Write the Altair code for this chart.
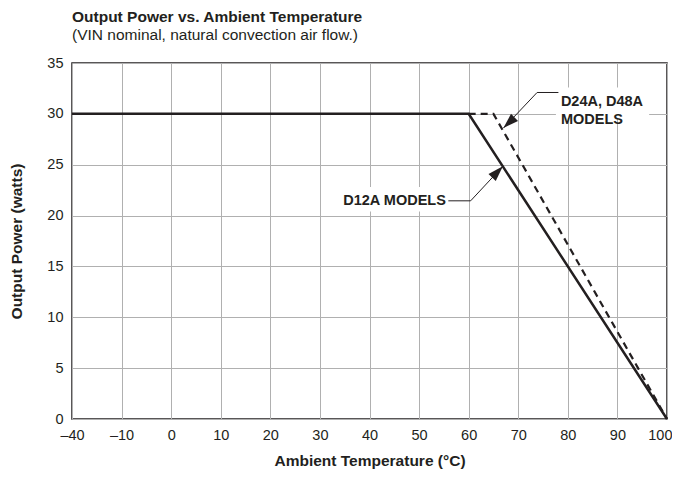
import altair as alt
import pandas as pd

# ---------------- data ----------------
temp_ticks = [-40, -10, 0, 10, 20, 30, 40, 50, 60, 70, 80, 90, 100]
power_ticks = [0, 5, 10, 15, 20, 25, 30, 35]

d12a_temp = [-40, 60, 100]
d12a_power = [30, 30, 0]

d24a_temp = [60, 65, 100]
d24a_power = [30, 30, 0]

# annotation anchors (data units)
ann_text = ["D12A MODELS", "D24A, D48A\nMODELS"]
ann_temp = [55.4, 78.6]
ann_power = [21.45, 31.2]

lead12_temp = [55.9, 60.4, 66.9]
lead12_power = [21.45, 21.45, 24.85]
lead24_temp = [78.1, 73.8, 67.0]
lead24_power = [32.1, 32.1, 28.6]

box_temp = [33.7, 77.6]
box_temp2 = [56.0, 96.4]
box_power = [20.4, 29.6]
box_power2 = [22.8, 32.6]


def pos(t):
    # broken axis: -40..-10 compressed into one tick interval
    return -10 + (t + 10) / 3 if t < -10 else t


FONT = "Liberation Sans"
INK = "#231f20"

x_vals = [pos(t) for t in temp_ticks]
label_expr = "datum.label"
for p, t in zip(x_vals, temp_ticks):
    if t < 0:
        label_expr = f"datum.value == {p} ? '–{abs(t)}' : ({label_expr})"

last = x_vals[-1]
xscale = alt.Scale(domain=[pos(-40), 100], nice=False, zero=False)
yscale = alt.Scale(domain=[0, 35], nice=False)

xaxis = alt.Axis(values=x_vals, labelExpr=label_expr, title="Ambient Temperature (°C)",
                 grid=True, ticks=False, domain=False, labelPadding=9, titlePadding=12,
                 labelFlush=False,
                 labelAlign={"condition": {"test": f"datum.value == {last}", "value": "right"},
                             "value": "center"},
                 labelOffset={"condition": {"test": f"datum.value == {last}", "value": 5},
                              "value": 0})
yaxis = alt.Axis(values=power_ticks, title="Output Power (watts)", grid=True, ticks=False,
                 domain=False, labelPadding=9, titlePadding=22)


def df_line(ts, ps):
    return pd.DataFrame({"p": [pos(t) for t in ts], "w": ps, "o": list(range(len(ts)))})


base_x = alt.X("p:Q", scale=xscale, axis=xaxis)
base_y = alt.Y("w:Q", scale=yscale, axis=yaxis)

boxes = alt.Chart(pd.DataFrame({"p": box_temp, "p2": box_temp2, "w": box_power, "w2": box_power2})).mark_rect(
    color="white").encode(x=base_x, x2="p2:Q", y=base_y, y2="w2:Q")

solid = alt.Chart(df_line(d12a_temp, d12a_power)).mark_line(
    color=INK, strokeWidth=2.5, strokeCap="butt", strokeJoin="miter").encode(
    x=base_x, y=base_y, order="o:Q")

dashed = alt.Chart(df_line(d24a_temp, d24a_power)).mark_line(
    color=INK, strokeWidth=2.2, strokeDash=[7, 5], strokeCap="butt").encode(
    x=base_x, y=base_y, order="o:Q")

leaders = []
arrow_path = "M0,0 L0.65,2 L-0.65,2 Z"
for ts, ps, ang in [(lead12_temp, lead12_power, 44), (lead24_temp, lead24_power, 226)]:
    d = df_line(ts, ps)
    leaders.append(alt.Chart(d).mark_line(color=INK, strokeWidth=1).encode(
        x=base_x, y=base_y, order="o:Q"))
    leaders.append(alt.Chart(d.iloc[[-1]]).mark_point(
        shape=arrow_path, filled=True, size=240, angle=ang, color=INK, opacity=1, strokeWidth=0).encode(
        x=base_x, y=base_y))

labels = []
for txt, t, w, al in zip(ann_text, ann_temp, ann_power, ["right", "left"]):
    labels.append(alt.Chart(pd.DataFrame({"p": [t], "w": [w], "s": [txt]})).mark_text(
        font=FONT, fontSize=14.5, fontWeight="bold", color=INK, align=al, baseline="middle",
        lineBreak="\n", lineHeight=18).encode(x=base_x, y=base_y, text="s:N"))

chart = alt.layer(boxes, solid, dashed, *leaders, *labels).properties(
    width=595, height=356,
    background="white",
    autosize=alt.AutoSizeParams(type="none"),
    padding={"left": 64, "top": 55, "right": 5, "bottom": 51},
    title=alt.Title("Output Power vs. Ambient Temperature",
                    subtitle="(VIN nominal, natural convection air flow.)",
                    anchor="start", frame="group", offset=12,
                    font=FONT, fontSize=15.5, fontWeight="bold", color=INK,
                    subtitleFont=FONT, subtitleFontSize=15.5, subtitleColor=INK,
                    subtitlePadding=2),
).configure_view(stroke=INK, strokeWidth=1.5).configure_axis(
    labelFont=FONT, labelFontSize=14.5, labelColor=INK,
    titleFont=FONT, titleFontSize=15.5, titleFontWeight="bold", titleColor=INK,
    gridColor="#b0b0b0", gridWidth=1, gridOpacity=1,
)

chart.save("out.html", embed_options={"renderer": "svg", "actions": False})
